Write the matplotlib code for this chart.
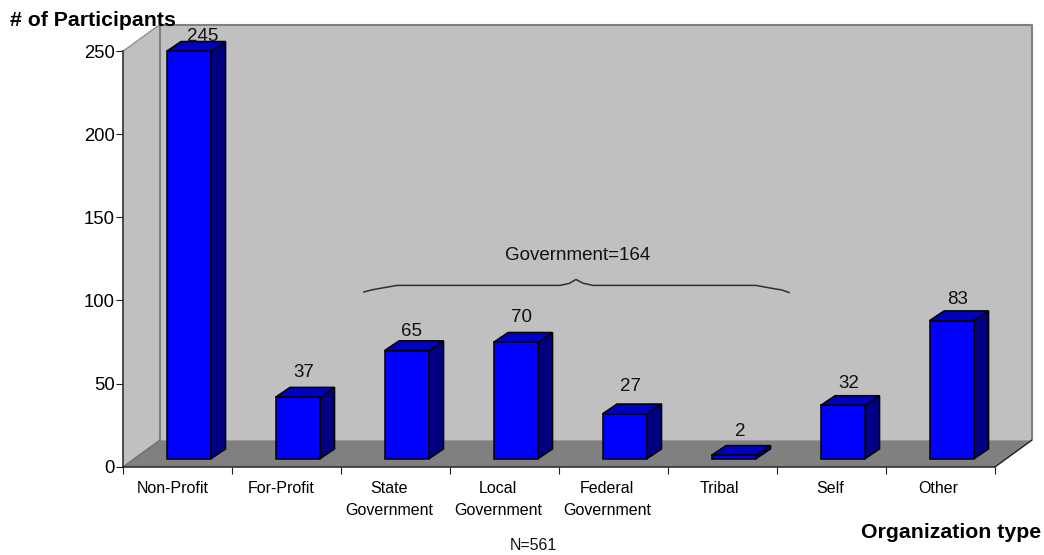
import matplotlib
matplotlib.use("Agg")
import matplotlib.pyplot as plt
from matplotlib.patches import Polygon
from matplotlib.transforms import ScaledTranslation

categories = ["Non-Profit", "For-Profit", "State\nGovernment", "Local\nGovernment",
              "Federal\nGovernment", "Tribal", "Self", "Other"]
values = [245, 37, 65, 70, 27, 2, 32, 83]
y_ticks = [0, 50, 100, 150, 200, 250]
label_shift_px = [-5, -6, -7, -7, -7, -3, -2, -3]
value_shift_px = [13.5, 6, 5, 6, 6, 6, 6, 6]
value_lift_px = [10, 20, 15, 20, 23, 19, 17, 17]

W, H = 1044, 555
L, R, T, B = 123.3, 995.3, 51.0, 466.7
plt.rcParams["font.family"] = ["Liberation Sans", "DejaVu Sans"]
fig = plt.figure(figsize=(W / 100, H / 100), dpi=100, facecolor="white")
ax = fig.add_axes([L / W, 1 - B / H, (R - L) / W, (B - T) / H])
ax.set_xlim(0, len(values))
ax.set_ylim(0, 250)
ax.patch.set_visible(False)
for s in ("top", "right"):
    ax.spines[s].set_visible(False)
ax.spines["left"].set_color("#303030")
ax.spines["bottom"].set_color("#202020")
ax.spines["left"].set_linewidth(1.2)
ax.spines["bottom"].set_linewidth(1.1)

px = (len(values)) / (R - L)      # data units per horizontal pixel
py = 250 / (B - T)                # data units per vertical pixel
DX, DY = 36.5 * px, 26.5 * py     # wall depth
bdx, bdy = 14.5 * px, 9.8 * py    # bar depth
fdx, fdy = 11.0 * px, 8.0 * py    # bar offset into the floor
bw = 44.5 * px                    # bar front width
n = len(values)

def poly(pts, fc, ec="none", lw=0.0, z=1):
    ax.add_patch(Polygon(pts, closed=True, facecolor=fc, edgecolor=ec, linewidth=lw,
                         zorder=z, clip_on=False, joinstyle="miter"))

# walls and floor
poly([(0, 0), (DX, DY), (DX, 250 + DY), (0, 250)], "#C0C0C0", z=1)
poly([(DX, DY), (n + DX, DY), (n + DX, 250 + DY), (DX, 250 + DY)], "#C0C0C0", z=1)
poly([(0, 0), (n, 0), (n + DX, DY), (DX, DY)], "#808080", z=1.5)
gray = dict(color="#808080", lw=1.5, zorder=1.6, clip_on=False, solid_capstyle="butt")
ax.plot([DX, DX], [DY, 250 + DY], **gray)
ax.plot([DX, n + DX, n + DX], [250 + DY, 250 + DY, DY], **gray)
ax.plot([0, DX], [250, 250 + DY], color="#909090", lw=1.0, zorder=1.6, clip_on=False)
ax.plot([n, n + DX], [0, DY], color="#202020", lw=1.0, zorder=1.6, clip_on=False)
ax.plot([0, DX], [0, DY], color="#707070", lw=1.0, zorder=1.6, clip_on=False)

# bars
for i, v in enumerate(values):
    x0 = i + 0.5 - bw / 2 + fdx
    x1 = x0 + bw
    y0 = fdy
    y1 = fdy + v
    edge = dict(ec="black", lw=1.1)
    poly([(x1, y0), (x1 + bdx, y0 + bdy), (x1 + bdx, y1 + bdy), (x1, y1)], "#000080", z=3, **edge)
    poly([(x0, y1), (x1, y1), (x1 + bdx, y1 + bdy), (x0 + bdx, y1 + bdy)], "#0000C0", z=3, **edge)
    poly([(x0, y0), (x1, y0), (x1, y1), (x0, y1)], "#0000FF", z=3.1, **edge)
    ax.text(i + 0.5 + fdx + value_shift_px[i] * px, y1 + value_lift_px[i] * py, str(v),
            ha="center", va="baseline", fontsize=13.5, color="#111111", zorder=4, clip_on=False)

# ticks
ax.set_yticks(y_ticks)
ax.tick_params(axis="y", length=4.7, width=0.8, color="#202020", labelsize=13.3, pad=1.5)
ax.set_xticks(range(n + 1))
ax.set_xticks([i + 0.5 for i in range(n)], minor=True)
ax.set_xticklabels([""] * (n + 1))
ax.set_xticklabels(categories, minor=True, linespacing=1.62)
ax.tick_params(axis="x", which="major", length=4.7, width=0.8, color="#202020")
ax.tick_params(axis="x", which="minor", length=0, labelsize=11.5, pad=10.0)
for lab, sh in zip(ax.get_xticklabels(minor=True), label_shift_px):
    lab.set_transform(lab.get_transform() + ScaledTranslation(sh / 100, 0, fig.dpi_scale_trans))

# government brace
brace_px = [(364, 292), (372, 289.8), (385, 287.5), (397, 285.4), (560, 285.4), (569, 283.5),
            (576, 279.5), (583, 283.2), (593, 285.4), (756, 285.4), (770, 288), (782, 290), (789, 292.5)]
ax.plot([(x - L) * px for x, _ in brace_px], [(B - y) * py for _, y in brace_px],
        color="#303030", lw=1.1, zorder=2.5, clip_on=False)
fig.text(578 / W, 1 - 259.5 / H, "Government=164", ha="center", va="baseline", fontsize=13.5, color="#111111")

# titles
fig.text(10 / W, 1 - 25.5 / H, "# of Participants", ha="left", va="baseline",
         fontsize=15.3, fontweight="bold", color="black")
fig.text(1040.7 / W, 1 - 538 / H, "Organization type", ha="right", va="baseline",
         fontsize=15.3, fontweight="bold", color="black")
fig.text(533 / W, 1 - 550 / H, "N=561", ha="center", va="baseline", fontsize=11.5, color="#111111")

fig.savefig("out.png", dpi=100, facecolor="white")
